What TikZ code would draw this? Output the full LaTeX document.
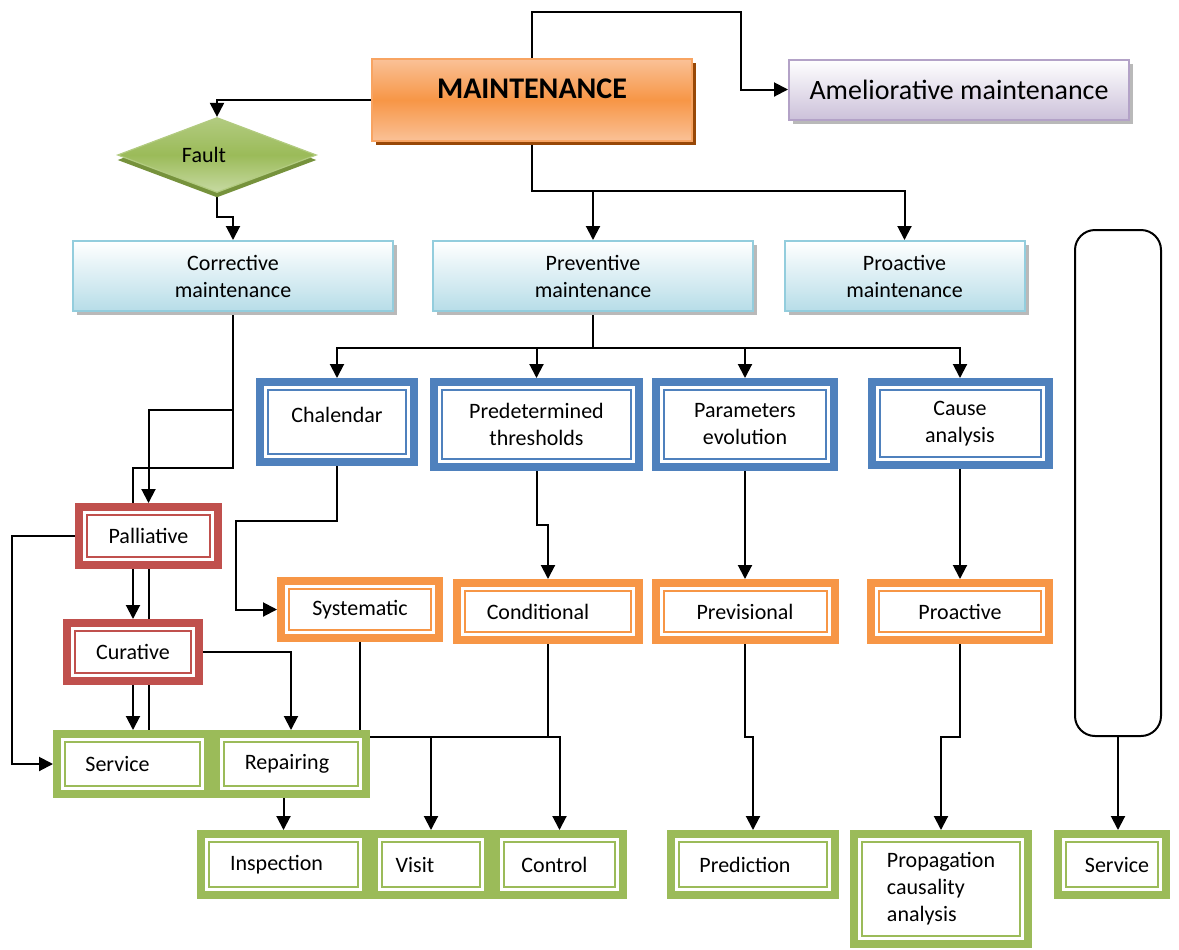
\documentclass[tikz,border=0pt]{standalone}
\usepackage{fontspec}
\setmainfont{Carlito}
\usetikzlibrary{arrows.meta,shapes.geometric,shadows,backgrounds}

\definecolor{bluebox}{HTML}{4F81BD}
\definecolor{orgbox}{HTML}{F79646}
\definecolor{redbox}{HTML}{C0504D}
\definecolor{grnbox}{HTML}{9BBB59}
\definecolor{maintlight}{HTML}{FAC197}
\definecolor{maintline}{HTML}{F8A462}
\definecolor{maintshadow}{HTML}{984807}
\definecolor{skyline}{HTML}{93CDDD}
\definecolor{skyfill}{HTML}{B7DDE8}
\definecolor{lilacline}{HTML}{B3A2C7}
\definecolor{lilacfill}{HTML}{CCC1DA}
\definecolor{faulttop}{HTML}{B2CB80}
\definecolor{faultbottom}{HTML}{C7DAA2}
\definecolor{faultshadow}{HTML}{76923C}

\begin{document}
\begin{tikzpicture}[x=0.5pt, y=-0.5pt,
    every node/.style={font=\fontsize{11}{13.5}\selectfont},
    arr/.style={-{Triangle[length=7pt,width=7pt]}},
    dbox/.style={draw=#1, line width=4pt, fill=white, inner sep=0pt, align=center,
      path picture={\draw[#1, line width=1pt]
        ([shift={(4pt,4pt)}]path picture bounding box.south west) rectangle
        ([shift={(-4pt,-4pt)}]path picture bounding box.north east);}},
    topbox/.style={draw=skyline, line width=1pt, top color=white, bottom color=skyfill,
      inner sep=0pt, align=center, minimum height=35pt,
      drop shadow={shadow xshift=2pt, shadow yshift=-2pt, fill=gray!55, opacity=1}}]
  \useasboundingbox (0,0) rectangle (1179,949);

  % top level
  \node[draw=maintline, line width=1pt, top color=maintlight, bottom color=maintlight,
    middle color=orgbox, minimum width=160pt, minimum height=41pt, inner sep=0pt,
    text depth=11pt,
    drop shadow={shadow xshift=2pt, shadow yshift=-2pt, fill=maintshadow, opacity=1},
    font=\fontsize{15}{18}\selectfont\bfseries] (maint) at (532,100) {MAINTENANCE};
  \node[draw=lilacline, line width=1pt, top color=white, bottom color=lilacfill,
    minimum width=170pt, minimum height=30pt, inner sep=0pt,
    drop shadow={shadow xshift=2pt, shadow yshift=-2pt, fill=gray!55, opacity=1},
    font=\fontsize{14}{17}\selectfont] (amel) at (959,89.5) {Ameliorative maintenance};
  \node[diamond, aspect=2.65, draw=faulttop, line width=0.6pt, top color=faulttop,
    bottom color=faultbottom, middle color=grnbox, minimum width=99.5pt,
    minimum height=37.5pt, inner sep=0pt, align=center,
    drop shadow={shadow xshift=0pt, shadow yshift=-2.5pt, fill=faultshadow, opacity=1}]
    (fault) at (217,155) {Fault\hspace{13pt}};

  \node[topbox, minimum width=160pt] (corr) at (233,276) {Corrective\\maintenance};
  \node[topbox, minimum width=160pt] (prev) at (593,276) {Preventive\\maintenance};
  \node[topbox, minimum width=120pt] (proact) at (904.5,276) {Proactive\\maintenance};

  % preventive methods
  \node[dbox=bluebox, minimum width=77pt, minimum height=40pt, text depth=7pt] (cal) at (337,422) {Chalendar};
  \node[dbox=bluebox, minimum width=102.5pt, minimum height=42.5pt] (thresh) at (536.5,424.5) {Predetermined\\thresholds};
  \node[dbox=bluebox, minimum width=89pt, minimum height=42.5pt] (param) at (745,424.5) {Parameters\\evolution};
  \node[dbox=bluebox, minimum width=88.5pt, minimum height=41.5pt] (cause) at (960,423.5) {Cause\\analysis};

  \node[dbox=orgbox, minimum width=79pt, minimum height=28.5pt] (syst) at (360,609.5) {Systematic};
  \node[dbox=orgbox, minimum width=91pt, minimum height=28.5pt] (cond) at (548,611.5) {Conditional\hspace{10pt}};
  \node[dbox=orgbox, minimum width=89.5pt, minimum height=28.5pt] (previs) at (745,611.5) {Previsional};
  \node[dbox=orgbox, minimum width=89pt, minimum height=28.5pt] (proac) at (960,611.5) {Proactive};

  % corrective methods
  \node[dbox=redbox, minimum width=69.5pt, minimum height=29pt] (pall) at (148.5,536) {Palliative};
  \node[dbox=redbox, minimum width=66pt, minimum height=29pt] (cur) at (133,652) {Curative};

  % actions
  \node[dbox=grnbox, minimum width=75.5pt, minimum height=30pt] (serv) at (132.5,764) {Service\hspace{15pt}};
  \node[dbox=grnbox, minimum width=75pt, minimum height=30pt] (rep) at (291,764) {Repairing\hspace{4pt}};
  \node[dbox=grnbox, minimum width=82.5pt, minimum height=30.5pt] (insp) at (283.5,864.5) {Inspection\hspace{7pt}};
  \node[dbox=grnbox, minimum width=57pt, minimum height=30.5pt] (visit) at (431,864.5) {Visit\hspace{16pt}};
  \node[dbox=grnbox, minimum width=63.5pt, minimum height=30.5pt] (ctrl) at (559.5,864.5) {Control\hspace{5pt}};
  \node[dbox=grnbox, minimum width=82pt, minimum height=30.5pt] (pred) at (753,864.5) {Prediction\hspace{8pt}};
  \node[dbox=grnbox, minimum width=87pt, minimum height=55pt, align=left] (prop) at (941,889) {Propagation\\causality\\analysis};
  \node[dbox=grnbox, minimum width=54pt, minimum height=30.5pt] (serv2) at (1112,864.5) {\hspace*{5pt}Service};

  \node[draw, line width=1pt, rounded corners=10pt, minimum width=43pt, minimum height=253pt] (bar) at (1118,483) {};

  % connectors
  \begin{pgfonlayer}{background}
  \begin{scope}[line width=1pt]
    \coordinate (split) at (532,191);
    \coordinate (fork) at (593,348);
    \coordinate (join) at (360,737);
    \draw[arr] (maint.north) |- (741,12) |- (amel.west);
    \draw[arr] (maint.west) -| (fault.north);
    \draw[arr] (fault.south) -- ++(0,24) -| (corr.north);
    \draw[arr] (maint.south) -- (split) -| (proact.north);
    \draw[arr] (split) -| (prev.north);
    \foreach \n in {cal,thresh,param,cause}
      \draw[arr] (prev.south) |- (fork) -| (\n.north);
    \draw[arr] (corr.south) -- ++(0,98) -| (pall.north);
    \draw (corr.south) -- ++(0,156) -| (pall.north -| cur.north);
    \draw[arr] (pall.south -| cur.north) -- (cur.north);
    \draw (pall.south) -- (cur.north -| pall.south);
    \draw[arr] (cur.south) -- (serv.north -| cur.south);
    \draw (cur.south -| pall.south) -- (serv.north -| pall.south);
    \draw[arr] (pall.west) -- ++(-63,0) |- (serv.west);
    \draw[arr] (cur.east) -| (rep.north);
    \draw[arr] (cal.south) -- ++(0,55) -| (236,609.5) -- (syst.west);
    \draw[arr] (thresh.south) -- ++(0,54) -| (cond.north);
    \draw[arr] (param.south) -- (previs.north);
    \draw[arr] (cause.south) -- (proac.north);
    \draw (syst.south) -- (join);
    \draw[arr] (join) -| (visit.north);
    \draw[arr] (join) -| (ctrl.north);
    \draw (cond.south) -- (cond.south |- join);
    \draw[arr] (rep.south -| insp.north) -- (insp.north);
    \draw[arr] (previs.south) -- ++(0,93) -| (pred.north);
    \draw[arr] (proac.south) -- ++(0,93) -| (prop.north);
    \draw[arr] (bar.south) -- (bar.south |- serv2.north);
  \end{scope}
  \end{pgfonlayer}
\end{tikzpicture}
\end{document}
